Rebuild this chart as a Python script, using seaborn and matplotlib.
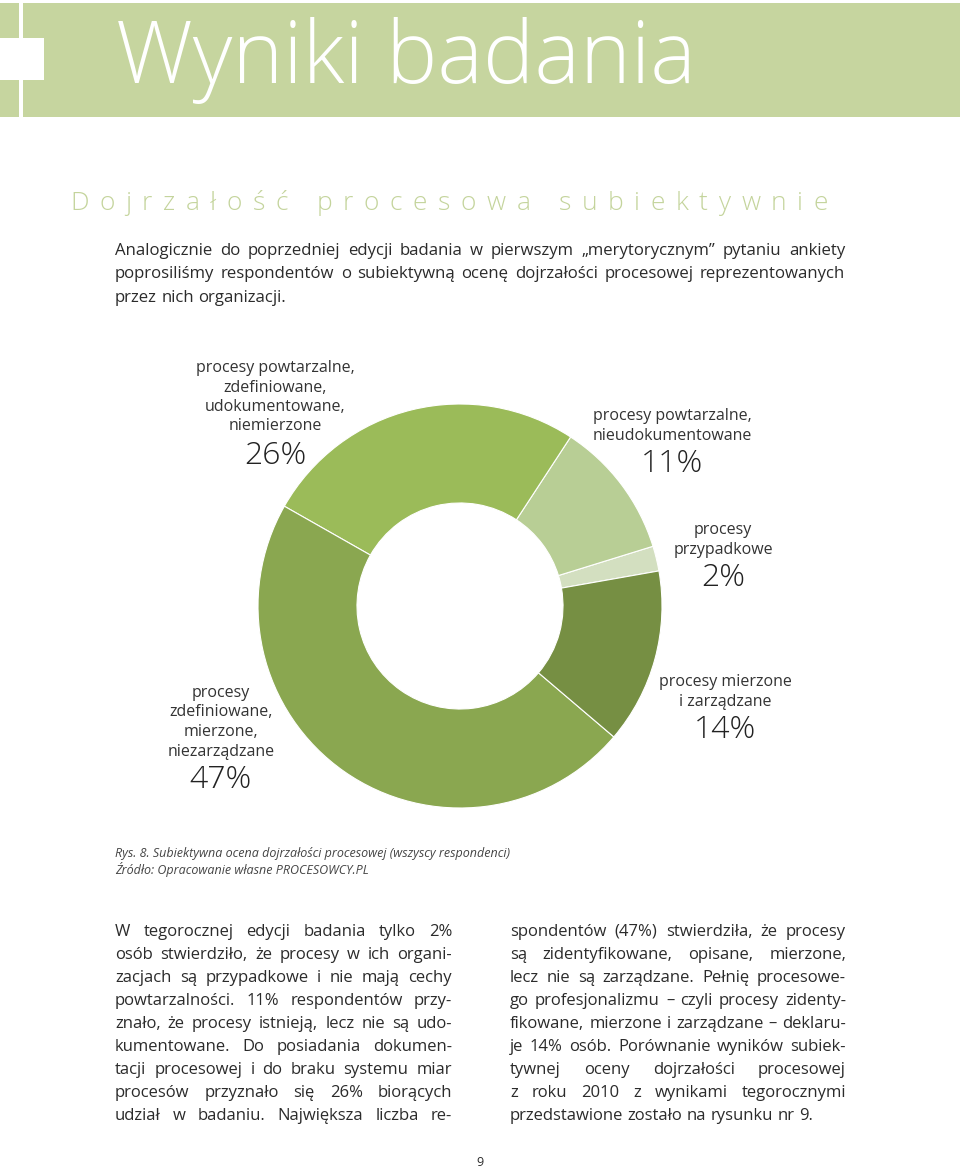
import matplotlib
matplotlib.use("Agg")
import matplotlib.pyplot as plt
import seaborn as sns
from matplotlib.patches import Rectangle

# --- data -----------------------------------------------------------------
slice_names = [
    "procesy\nprzypadkowe",
    "procesy powtarzalne,\nnieudokumentowane",
    "procesy powtarzalne,\nzdefiniowane,\nudokumentowane,\nniemierzone",
    "procesy\nzdefiniowane,\nmierzone,\nniezarządzane",
    "procesy mierzone\ni zarządzane",
]
slice_values = [2, 11, 26, 47, 14]
slice_colors = ["#d3dfc0", "#b8ce95", "#9bbb59", "#8aa750", "#768f43"]

page_title = "Wyniki badania"
section_title = "Dojrzałość procesowa subiektywnie"
intro_lines = [
    "Analogicznie do poprzedniej edycji badania w pierwszym „merytorycznym” pytaniu ankiety",
    "poprosiliśmy respondentów o subiektywną ocenę dojrzałości procesowej reprezentowanych",
    "przez nich organizacji.",
]
caption_lines = [
    "Rys. 8. Subiektywna ocena dojrzałości procesowej (wszyscy respondenci)",
    "Źródło: Opracowanie własne PROCESOWCY.PL",
]
left_col = [
    "W tegorocznej edycji badania tylko 2%",
    "osób stwierdziło, że procesy w ich organi-",
    "zacjach są przypadkowe i nie mają cechy",
    "powtarzalności. 11% respondentów przy-",
    "znało, że procesy istnieją, lecz nie są udo-",
    "kumentowane. Do posiadania dokumen-",
    "tacji procesowej i do braku systemu miar",
    "procesów przyznało się 26% biorących",
    "udział w badaniu. Największa liczba re-",
]
right_col = [
    "spondentów (47%) stwierdziła, że procesy",
    "są zidentyfikowane, opisane, mierzone,",
    "lecz nie są zarządzane. Pełnię procesowe-",
    "go profesjonalizmu – czyli procesy zidenty-",
    "fikowane, mierzone i zarządzane – deklaru-",
    "je 14% osób. Porównanie wyników subiek-",
    "tywnej oceny dojrzałości procesowej",
    "z roku 2010 z wynikami tegorocznymi",
    "przedstawione zostało na rysunku nr 9.",
]

# centre of the first label line per slice, in page pixels
label_pos = [(723, 530), (672, 416), (275, 368), (221, 693), (725, 682)]

sns.set_theme(style="white")
plt.rcParams['font.family'] = ['Open Sans', 'DejaVu Sans']

fig = plt.figure(figsize=(9.6, 11.68), dpi=100)
bg = fig.add_axes([0, 0, 1, 1])
bg.set_xlim(0, 960)
bg.set_ylim(1168, 0)
bg.axis('off')
renderer = fig.canvas.get_renderer()

TXT = "#2b2b2b"


def width_of(s, **kw):
    t = bg.text(0, 0, s, **kw)
    w = t.get_window_extent(renderer).width
    t.remove()
    return w


def put_line(line, x0, x1, y, justify=True, **kw):
    words = line.split()
    arts = [bg.text(0, y, w, va='baseline', **kw) for w in words]
    widths = [a.get_window_extent(renderer).width for a in arts]
    if justify and len(words) > 1:
        gap = (x1 - x0 - sum(widths)) / (len(words) - 1)
    else:
        gap = width_of("x x", **kw) - width_of("xx", **kw)
    x = x0
    for a, w in zip(arts, widths):
        a.set_x(x)
        x += w + gap


def put_tracked(s, x0, x1, y, **kw):
    chars = list(s)
    arts = [bg.text(0, y, c, va='baseline', **kw) for c in chars]
    space = width_of("x x", **kw) - width_of("xx", **kw)
    widths = [space if c == " " else a.get_window_extent(renderer).width
              for c, a in zip(chars, arts)]
    track = (x1 - x0 - sum(widths)) / (len(chars) - 1)
    x = x0
    for a, w in zip(arts, widths):
        a.set_x(x)
        x += w + track


# header band
bg.add_patch(Rectangle((0, 3), 960, 114, color="#c6d59f", lw=0))
bg.add_patch(Rectangle((19, 3), 4, 114, color="white", lw=0))
bg.add_patch(Rectangle((0, 38), 44, 42, color="white", lw=0))
bg.text(116, 83, page_title, color="white", fontsize=62, fontweight='light',
        va='baseline')

put_tracked(section_title, 70, 828, 210, fontsize=19, color="#c4d49c",
            fontweight='light')

for i, line in enumerate(intro_lines):
    put_line(line, 115, 845, 255 + i * 23.5, justify=(i < 2),
             fontsize=12.1, color=TXT)

# donut
cx, cy, R = 460, 606, 202
ax = fig.add_axes([(cx - R) / 960, (1168 - cy - R) / 1168, 2 * R / 960, 2 * R / 1168])
ax.pie(slice_values, colors=slice_colors, startangle=10, counterclock=True,
       radius=1, wedgeprops=dict(width=0.49, edgecolor="white", linewidth=0.8))
ax.set_xlim(-1, 1)
ax.set_ylim(-1, 1)
ax.axis('off')

for name, val, (lx, ly) in zip(slice_names, slice_values, label_pos):
    rows = name.split("\n")
    for i, row in enumerate(rows):
        bg.text(lx, ly + i * 19.5, row, ha='center', va='center',
                fontsize=11.5, color="#333333")
    bg.text(lx, ly + (len(rows) - 1) * 19.5 + 29, f"{val}%", ha='center',
            va='center', fontsize=23, fontweight='light', color="#222222")

for i, line in enumerate(caption_lines):
    bg.text(115, 857 + i * 17, line, fontsize=9, fontstyle='italic',
            color="#444444", va='baseline')

for i, line in enumerate(left_col):
    put_line(line, 115, 452, 936 + i * 23, fontsize=12, color=TXT)
for i, line in enumerate(right_col):
    put_line(line, 510, 846, 936 + i * 23, justify=(i < len(right_col) - 1),
             fontsize=12, color=TXT)

bg.text(480, 1166, "9", ha='center', va='baseline', fontsize=9, color=TXT)

fig.savefig("out.png", dpi=100, facecolor="white")
